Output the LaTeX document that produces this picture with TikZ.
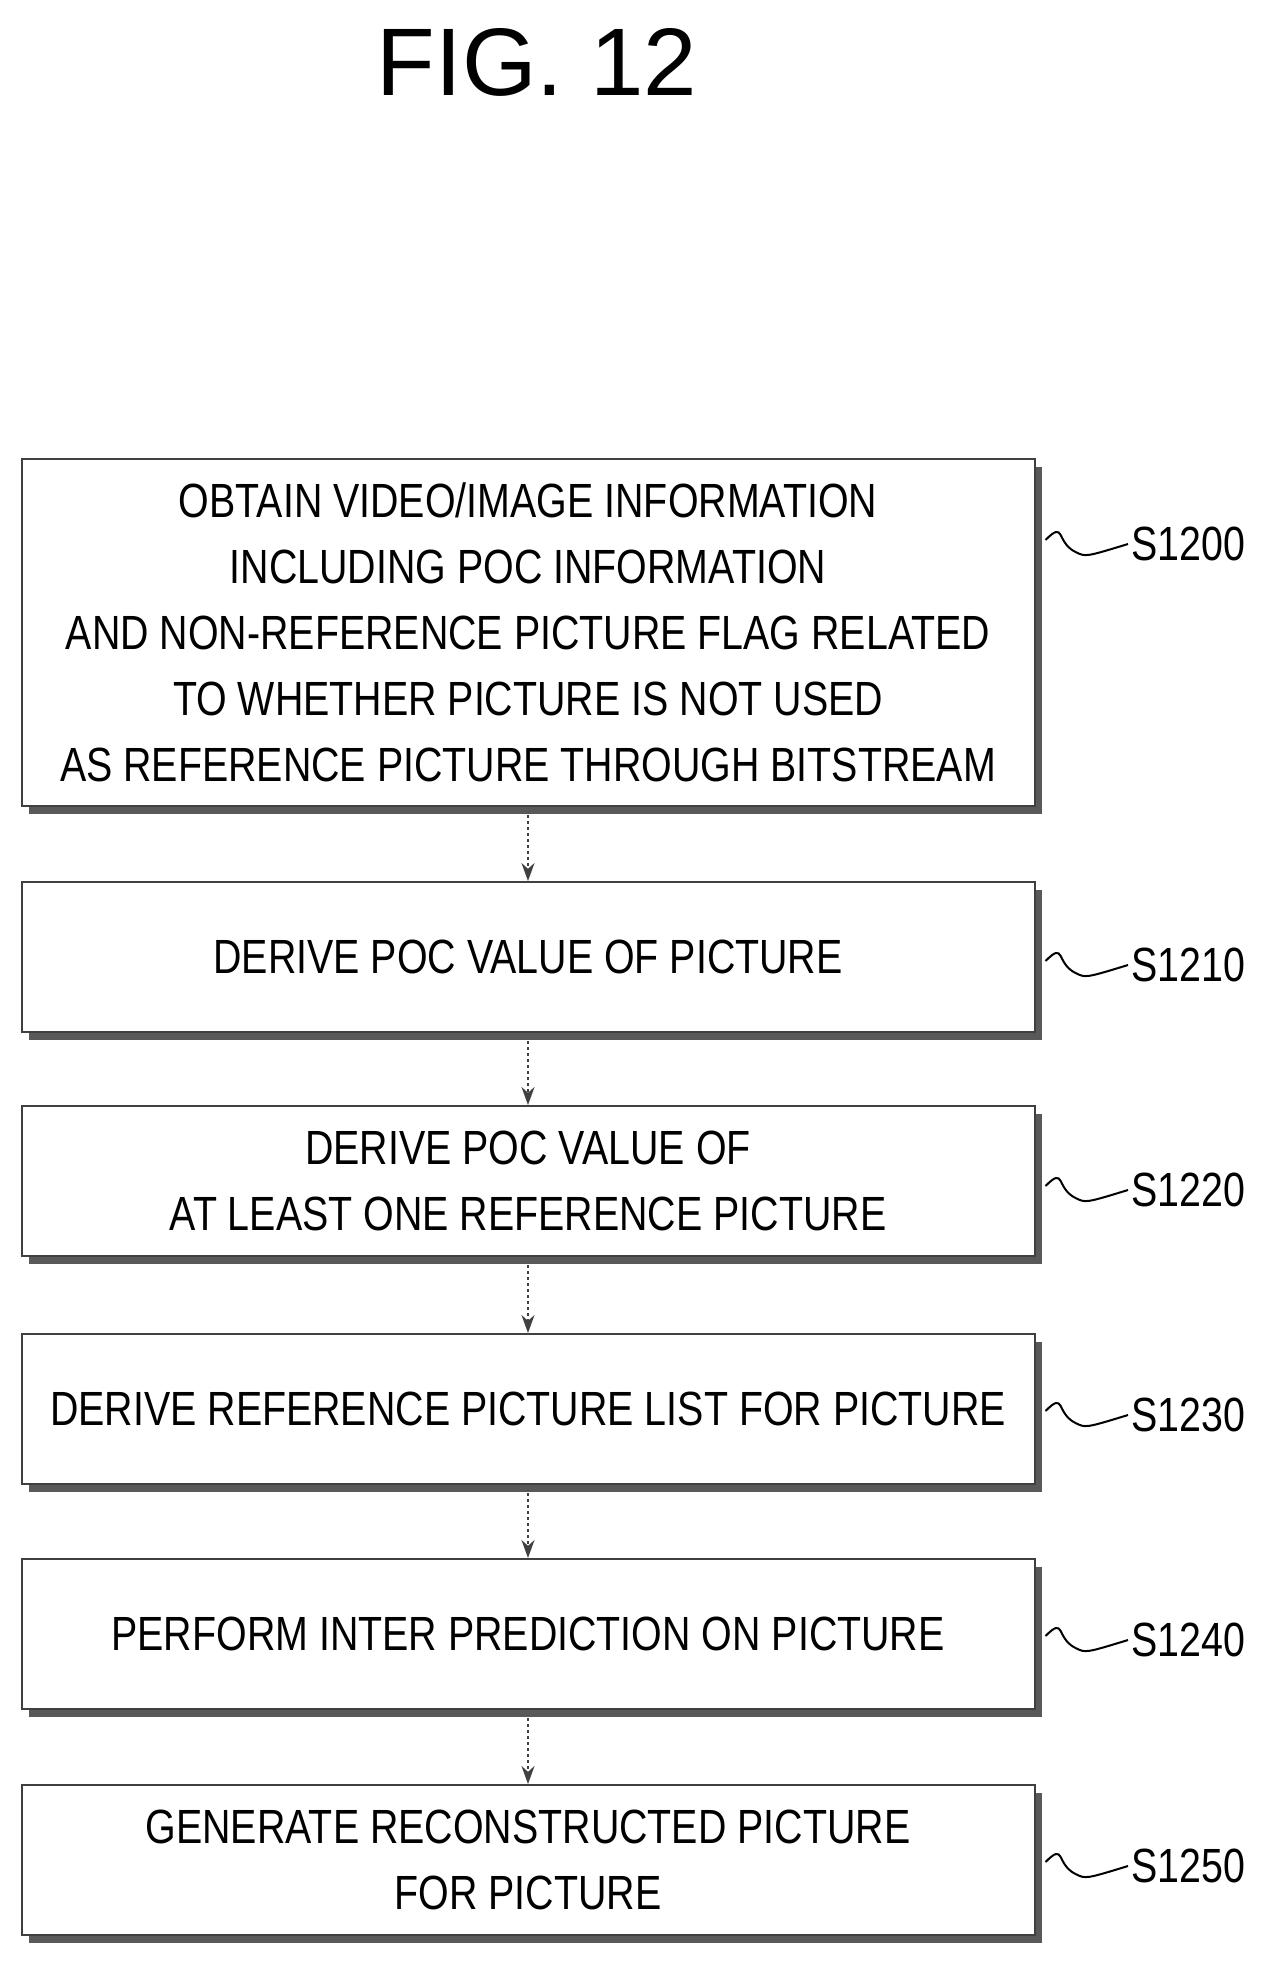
\documentclass[tikz,border=0pt]{standalone}
\usepackage{fontspec}
\setmainfont{Liberation Sans}[FakeStretch=0.82]
\newfontfamily\ttlfont{Liberation Sans}[FakeStretch=1.0]
\usetikzlibrary{arrows.meta}
\begin{document}
\begin{tikzpicture}[x=1pt,y=-1pt,
 box/.style={draw=black!75,line width=2pt,fill=white,inner sep=0pt,
   font=\fontsize{48}{66}\selectfont,align=center,
   preaction={fill=black!65,transform canvas={shift={(7pt,-8pt)}}}},
 lab/.style={font=\fontsize{48}{50}\selectfont,anchor=west},
 arr/.style={draw=black!75,line width=2pt,dashed,-{Stealth[length=18pt,width=13pt]}}]
\useasboundingbox (0,0) rectangle (1281,1981);
\node[font=\ttlfont\fontsize{96}{110}\selectfont] (title) at (537,62) {FIG. 12};
\def\bx#1#2#3#4{\node[box,minimum width=1013pt,minimum height=#3pt] (#1) at (528,#2) {#4};}
\bx{b0}{632}{347}{OBTAIN VIDEO/IMAGE INFORMATION\\INCLUDING POC INFORMATION\\AND NON-REFERENCE PICTURE FLAG RELATED\\TO WHETHER PICTURE IS NOT USED\\AS REFERENCE PICTURE THROUGH BITSTREAM}
\bx{b1}{957}{150}{DERIVE POC VALUE OF PICTURE}
\bx{b2}{1181}{150}{DERIVE POC VALUE OF\\AT LEAST ONE REFERENCE PICTURE}
\bx{b3}{1409}{150}{DERIVE REFERENCE PICTURE LIST FOR PICTURE}
\bx{b4}{1634}{150}{PERFORM INTER PREDICTION ON PICTURE}
\bx{b5}{1860}{150}{GENERATE RECONSTRUCTED PICTURE\\FOR PICTURE}
\foreach \n/\t/\y in {0/S1200/544,1/S1210/965,2/S1220/1190,3/S1230/1415,4/S1240/1640,5/S1250/1866}{
  \node[lab] (l\n) at (1128,\y) {\t};
  \draw[line width=2pt] (b\n.east |- l\n.west) ++(10,-4) .. controls +(20,-20) and +(-20,-10) .. ++(30,12) .. controls +(10,5) .. (l\n.west);
}
\foreach \a/\b in {b0/b1,b1/b2,b2/b3,b3/b4,b4/b5}
  \draw[arr] ([yshift=-8pt]\a.south) -- (\b.north);
\end{tikzpicture}
\end{document}
